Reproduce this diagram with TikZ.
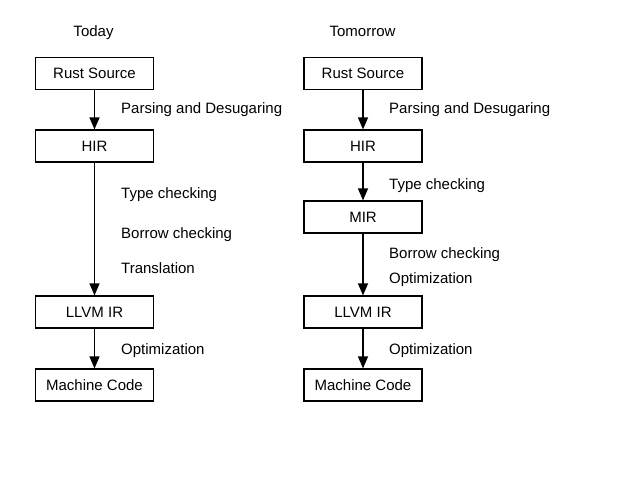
\documentclass[tikz,border=0pt]{standalone}
\usepackage{fontspec}
\setmainfont{Liberation Sans}
\usetikzlibrary{arrows.meta}
\tikzset{
 stage/.style={draw, line width=1.2pt, minimum width=118pt, minimum height=32pt, inner sep=0pt},
 pass/.style={anchor=base west, inner sep=0pt},
 title/.style={anchor=base, inner sep=0pt},
 flow/.style={line width=1.3pt, -{Triangle[length=12pt, width=10pt]}}
}
\begin{document}
\begin{tikzpicture}[x=1pt, y=-1pt, font=\fontsize{15}{17}\selectfont]
\useasboundingbox (0,0) rectangle (626,493);

% today
\node[title] (today) at (93.5,36) {Today};
\node[stage] (rs1) at (94.5,73.5) {Rust Source};
\node[stage] (hir1) at (94.5,146) {HIR};
\node[stage] (llvm1) at (94.5,312) {LLVM IR};
\node[stage] (mc1) at (94.5,385) {Machine Code};

\draw[flow] (rs1) -- (hir1);
\draw[flow] (hir1) -- (llvm1);
\draw[flow] (llvm1) -- (mc1);

\node[pass] (p1) at (121,113) {Parsing and Desugaring};
\node[pass] (t1) at (121,198) {Type checking};
\node[pass] (b1) at (121,238) {Borrow checking};
\node[pass] (tr1) at (121,273) {Translation};
\node[pass] (o1) at (121,354) {Optimization};

% tomorrow
\node[title] (tomorrow) at (362.5,36) {Tomorrow};
\node[stage] (rs2) at (363,73.5) {Rust Source};
\node[stage] (hir2) at (363,146) {HIR};
\node[stage] (mir2) at (363,217) {MIR};
\node[stage] (llvm2) at (363,312) {LLVM IR};
\node[stage] (mc2) at (363,385) {Machine Code};

\draw[flow] (rs2) -- (hir2);
\draw[flow] (hir2) -- (mir2);
\draw[flow] (mir2) -- (llvm2);
\draw[flow] (llvm2) -- (mc2);

\node[pass] (p2) at (389,113) {Parsing and Desugaring};
\node[pass] (t2) at (389,189) {Type checking};
\node[pass] (b2) at (389,258) {Borrow checking};
\node[pass] (o2) at (389,283) {Optimization};
\node[pass] (o3) at (389,354) {Optimization};
\end{tikzpicture}
\end{document}
